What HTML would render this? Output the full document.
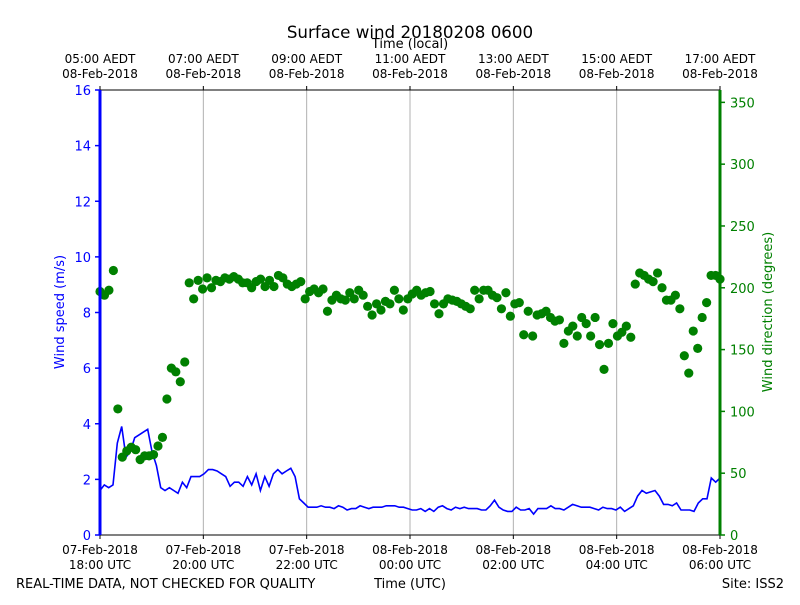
<!DOCTYPE html>
<html><head><meta charset="utf-8"><style>
body{margin:0;background:#fff;font-family:"Liberation Sans","DejaVu Sans",sans-serif}
svg text{font-family:"DejaVu Sans","Liberation Sans",sans-serif}
</style></head><body>
<svg id="chart" width="800" height="600" xmlns="http://www.w3.org/2000/svg">
<rect width="800" height="600" fill="#fff"/>
<text x="410" y="38" font-size="16.7" text-anchor="middle">Surface wind 20180208 0600</text>
<text x="410" y="48" font-size="13" text-anchor="middle">Time (local)</text>
<g id="grid"></g>
<g id="marks"></g>
<g id="axes"></g>
<text transform="translate(64,312) rotate(-90)" font-size="13" fill="#0000ff" text-anchor="middle">Wind speed (m/s)</text>
<text transform="translate(772,312) rotate(-90)" font-size="13" fill="#008000" text-anchor="middle">Wind direction (degrees)</text>
<text x="16" y="588" font-size="13">REAL-TIME DATA, NOT CHECKED FOR QUALITY</text>
<text x="410" y="588" font-size="13" text-anchor="middle">Time (UTC)</text>
<text x="784" y="588" font-size="13" text-anchor="end">Site: ISS2</text>
</svg>
<script>
const speedValues=[1.6,1.8,1.7,1.8,3.3,3.9,2.8,3.0,3.5,3.6,3.7,3.8,3.0,2.5,1.7,1.6,1.7,1.6,1.5,1.9,1.7,2.1,2.1,2.1,2.2,2.35,2.35,2.3,2.2,2.1,1.75,1.9,1.9,1.75,2.1,1.8,2.2,1.6,2.1,1.75,2.2,2.35,2.2,2.3,2.4,2.1,1.3,1.15,1.0,1.0,1.0,1.05,1.0,1.0,0.95,1.05,1.0,0.9,0.95,0.95,1.05,1.0,0.95,1.0,1.0,1.0,1.05,1.05,1.05,1.0,1.0,0.95,0.9,0.9,0.95,0.85,0.95,0.85,1.0,1.05,0.95,0.9,1.0,0.95,1.0,0.95,0.95,0.95,0.9,0.9,1.05,1.25,1.0,0.9,0.85,0.85,1.0,0.9,0.9,0.95,0.75,0.95,0.95,0.95,1.05,0.95,0.95,0.9,1.0,1.1,1.05,1.0,1.0,1.0,0.95,0.9,1.0,0.95,0.95,0.9,1.0,0.85,0.95,1.05,1.4,1.6,1.5,1.55,1.6,1.4,1.1,1.1,1.05,1.15,0.9,0.9,0.9,0.85,1.15,1.3,1.3,2.05,1.9,2.05];
const directionValues=[197,194,198,214,102,63,68,71,69,61,64,64,65,72,79,110,135,132,124,140,204,191,206,199,208,200,206,205,208,207,209,207,204,204,200,205,207,201,206,201,210,208,203,201,203,205,191,197,199,196,199,181,190,194,191,190,196,191,198,194,185,178,187,182,189,187,198,191,182,191,195,198,194,196,197,187,179,187,191,190,189,187,185,183,198,191,198,198,194,192,183,196,177,187,188,162,181,161,178,179,181,176,173,174,155,165,169,161,176,171,161,176,154,134,155,171,161,164,169,160,203,212,210,207,205,212,200,190,190,194,183,145,131,165,151,176,188,210,210,207];
const utcTickLabels=[["07-Feb-2018","18:00 UTC"],["07-Feb-2018","20:00 UTC"],["07-Feb-2018","22:00 UTC"],["08-Feb-2018","00:00 UTC"],["08-Feb-2018","02:00 UTC"],["08-Feb-2018","04:00 UTC"],["08-Feb-2018","06:00 UTC"]];
const localTickLabels=[["05:00 AEDT","08-Feb-2018"],["07:00 AEDT","08-Feb-2018"],["09:00 AEDT","08-Feb-2018"],["11:00 AEDT","08-Feb-2018"],["13:00 AEDT","08-Feb-2018"],["15:00 AEDT","08-Feb-2018"],["17:00 AEDT","08-Feb-2018"]];
const speedTicks=[0,2,4,6,8,10,12,14,16];
const dirTicks=[0,50,100,150,200,250,300,350];

const L=100,R=720,T=90,B=535,NS="http://www.w3.org/2000/svg";
const xT=m=>L+(R-L)*m/720;
const yS=v=>B-(B-T)*v/16;
const yD=v=>B-(B-T)*v/360;
function mk(parent,tag,attrs){const e=document.createElementNS(NS,tag);for(const k in attrs)e.setAttribute(k,attrs[k]);document.getElementById(parent).appendChild(e);return e;}

utcTickLabels.forEach((lab,i)=>{
  const x=xT(i*120);
  if(i>0&&i<6){const g=mk('grid','line',{x1:x,x2:x,y1:T,y2:B,stroke:'#b0b0b0','stroke-width':1});
  
  }
  mk('axes','line',{x1:x,x2:x,y1:B,y2:B+4,stroke:'#000'});
  mk('axes','line',{x1:x,x2:x,y1:T,y2:T-4,stroke:'#000'});
  const t=mk('axes','text',{x:x,y:554,'font-size':12,'text-anchor':'middle'});
  
  
  t.innerHTML='<tspan x="'+x+'">'+lab[0]+'</tspan><tspan x="'+x+'" dy="15">'+lab[1]+'</tspan>';
  const u=mk('axes','text',{x:x,y:63,'font-size':12,'text-anchor':'middle'});
  
  
  const ll=localTickLabels[i];
  u.innerHTML='<tspan x="'+x+'">'+ll[0]+'</tspan><tspan x="'+x+'" dy="15">'+ll[1]+'</tspan>';
});

const step=720/(speedValues.length-1);
const pts=speedValues.map((v,i)=>xT(i*step).toFixed(1)+','+yS(v).toFixed(1)).join(' ');
const pl=mk('marks','polyline',{points:pts,fill:'none',stroke:'#0000ff','stroke-width':1.6});


const dstep=720/(directionValues.length-1);
directionValues.forEach((v,i)=>{
  const c=mk('marks','circle',{cx:xT(i*dstep),cy:yD(v),r:4.6,fill:'#008000'});
  
  
});

mk('axes','line',{x1:L,x2:R,y1:T,y2:T,stroke:'#000','stroke-width':1});
mk('axes','line',{x1:L,x2:R,y1:B,y2:B,stroke:'#000','stroke-width':1});
mk('axes','line',{x1:L,x2:L,y1:T,y2:B,stroke:'#0000ff','stroke-width':3});
mk('axes','line',{x1:R,x2:R,y1:T,y2:B,stroke:'#008000','stroke-width':3});
speedTicks.forEach(v=>{
  const y=yS(v);
  mk('axes','line',{x1:L-5,x2:L,y1:y,y2:y,stroke:'#0000ff','stroke-width':1.5});
  const t=mk('axes','text',{x:L-9,y:y+5,'font-size':13,'text-anchor':'end',fill:'#0000ff'});
  
  
  t.textContent=v;
});
dirTicks.forEach(v=>{
  const y=yD(v);
  mk('axes','line',{x1:R,x2:R+5,y1:y,y2:y,stroke:'#008000','stroke-width':1.5});
  const t=mk('axes','text',{x:R+10,y:y+5,'font-size':13,fill:'#008000'});
  
  
  t.textContent=v;
});
</script>
</body></html>
